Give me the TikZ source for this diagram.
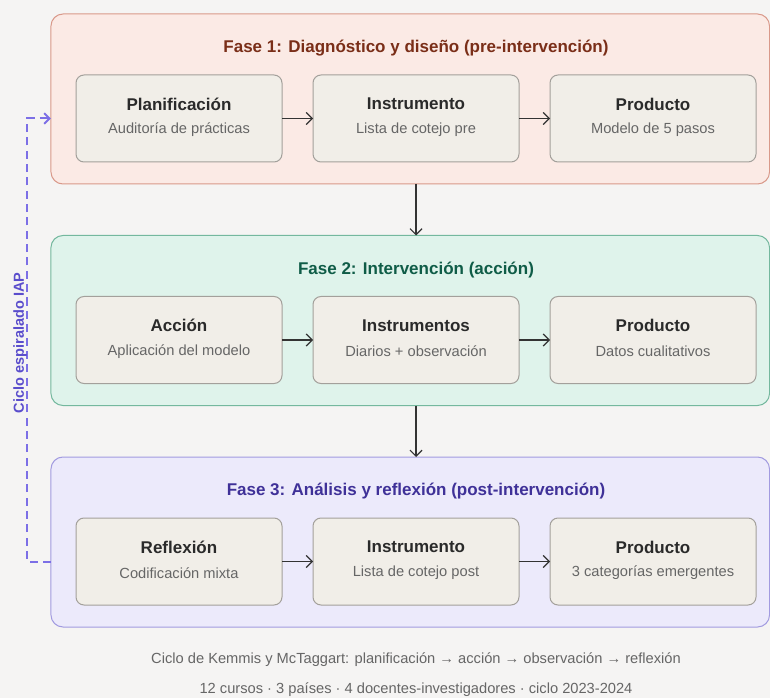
\documentclass[tikz,border=0pt]{standalone}
\usepackage{fontspec}
\setmainfont{Liberation Sans}
\usetikzlibrary{positioning,arrows.meta,calc}
\definecolor{bgpaper}{HTML}{F5F4F3}
\definecolor{faseonefill}{HTML}{FBEAE5}
\definecolor{faseonedraw}{HTML}{D9998A}
\definecolor{faseonetext}{HTML}{7A2E18}
\definecolor{fasetwofill}{HTML}{DFF3EB}
\definecolor{fasetwodraw}{HTML}{74B89E}
\definecolor{fasetwotext}{HTML}{0F5C47}
\definecolor{fasethreefill}{HTML}{ECEAFB}
\definecolor{fasethreedraw}{HTML}{A29BE0}
\definecolor{fasethreetext}{HTML}{3F3198}
\definecolor{stepfill}{HTML}{F1EEE8}
\definecolor{stepdraw}{HTML}{A3A09B}
\definecolor{headtext}{HTML}{2A2A2A}
\definecolor{subtext}{HTML}{666666}
\definecolor{cyclecolor}{HTML}{7C6FE6}
\definecolor{cyclelabel}{HTML}{5A4DCC}

\begin{document}
\begin{tikzpicture}[x=0.75pt, y=-0.75pt,
    every node/.style={inner sep=0pt, outer sep=0pt},
    fasebox/.style={draw=#1draw, fill=#1fill, line width=0.75pt, rounded corners=9pt,
        minimum width=538.9pt, minimum height=127.5pt},
    fasetitle/.style={text=#1text, font=\bfseries\fontsize{12.75}{15}\selectfont},
    stepbox/.style={draw=stepdraw, fill=stepfill, line width=0.75pt, rounded corners=6pt,
        minimum width=154.5pt, minimum height=65.25pt},
    stephead/.style={text=headtext, font=\bfseries\fontsize{12.75}{15}\selectfont},
    stepsub/.style={text=subtext, font=\fontsize{11}{13}\selectfont},
    flow/.style={draw=black!80, line width=0.9pt, -{Straight Barb[length=4.5pt,width=9pt]}},
    cycleline/.style={draw=cyclecolor, line width=1.5pt, dash pattern=on 6pt off 4pt,
        -{Straight Barb[length=4pt,width=8pt]}},
    caption/.style={text=subtext, font=\fontsize{11}{13}\selectfont}]

    % Page and background
    \useasboundingbox (0,0) rectangle (770,698);
    \fill[bgpaper] (0,0) rectangle (770,698);

    % Phase panels
    \node[fasebox=faseone] (p1) at (410.25,99) {};
    \node[fasebox=fasetwo] (p2) at (410.25,320.5) {};
    \node[fasebox=fasethree] (p3) at (410.25,542) {};

    \node[fasetitle=faseone] (t1) at (416,48) {Fase 1: Diagnóstico y diseño (pre-intervención)};
    \node[fasetitle=fasetwo] (t2) at (416,270) {Fase 2: Intervención (acción)};
    \node[fasetitle=fasethree] (t3) at (416,491) {Fase 3: Análisis y reflexión (post-intervención)};

    % Steps of each phase
    \foreach \n/\x/\y/\h/\s in {
        11/179/118.5/Planificación/Auditoría de prácticas,
        12/416/118.5/Instrumento/Lista de cotejo pre,
        13/653/118.5/Producto/Modelo de 5 pasos,
        21/179/340/Acción/Aplicación del modelo,
        22/416/340/Instrumentos/Diarios + observación,
        23/653/340/Producto/Datos cualitativos,
        31/179/561.5/Reflexión/Codificación mixta,
        32/416/561.5/Instrumento/Lista de cotejo post,
        33/653/561.5/Producto/3 categorías emergentes} {
        \node[stepbox] (s\n) at (\x,\y) {};
        \node[stephead] (h\n) at ([yshift=10.9pt]s\n.center) {\h};
        \node[stepsub] (d\n) at ([yshift=-8.6pt]s\n.center) {\s};
    }

    % Arrows inside the phases
    \foreach \r in {1,2,3} {
        \draw[flow] (s\r1) -- (s\r2);
        \draw[flow] (s\r2) -- (s\r3);
    }

    % Arrows between the phases
    \draw[flow] (s12 |- p1.south) -- (s12 |- p2.north);
    \draw[flow] (s22 |- p2.south) -- (s22 |- p3.north);

    % Spiral cycle back to phase 1
    \draw[cycleline] (p3.west |- s31) -- ++(-24,0) |- (p1.west |- s11);
    \node[rotate=90, text=cyclelabel, font=\bfseries\fontsize{10.9}{13}\selectfont] (ciclo) at (20,343) {Ciclo espiralado IAP};

    % Caption
    \node[caption] (cap1) at (416,660) {Ciclo de Kemmis y McTaggart: planificación → acción → observación → reflexión};
    \node[caption] (cap2) at (416,690) {12 cursos · 3 países · 4 docentes-investigadores · ciclo 2023-2024};
\end{tikzpicture}
\end{document}
